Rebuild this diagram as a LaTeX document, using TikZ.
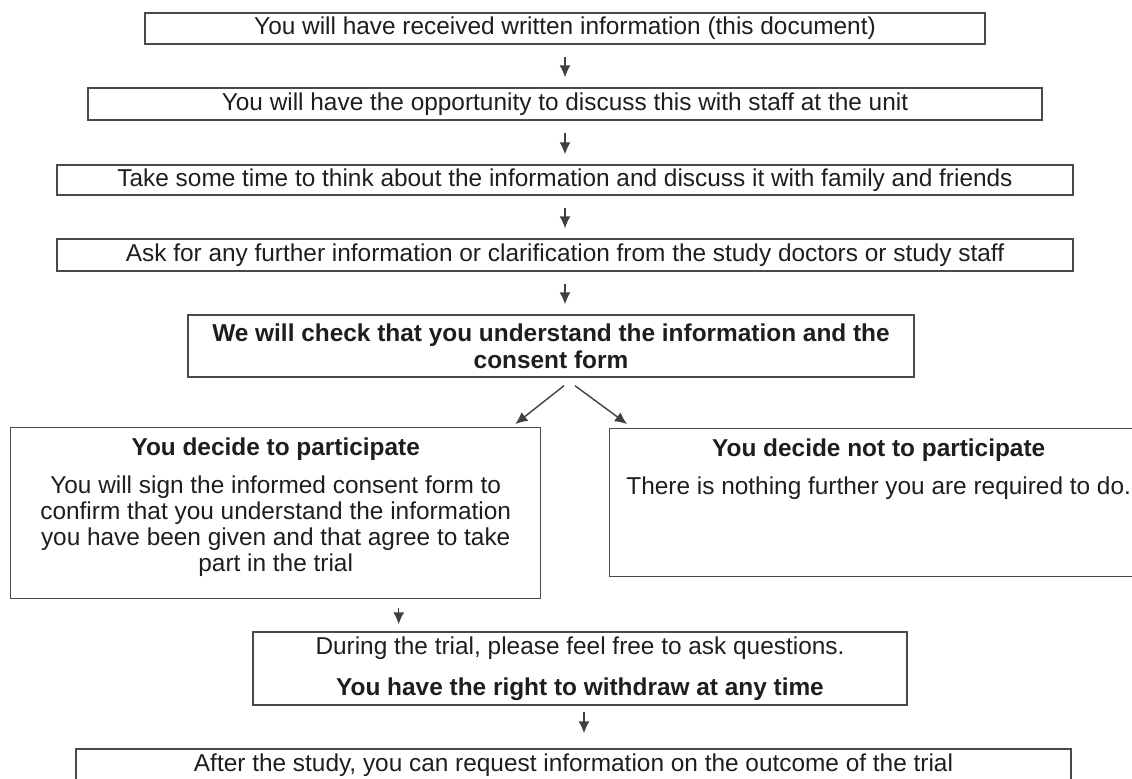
\documentclass[tikz,border=0pt]{standalone}
\usepackage{fontspec}
\setmainfont{Liberation Sans}
\usetikzlibrary{arrows.meta,positioning,calc}
\definecolor{ink}{HTML}{1E1E1E}
\definecolor{boxline}{HTML}{4A4A4A}
\newcommand{\txt}{\fontsize{12.2}{13}\selectfont}

\begin{document}
\begin{tikzpicture}[x=0.5pt,y=-0.5pt,
  every node/.style={font=\txt, text=ink},
  box/.style={draw=boxline, line width=0.7pt, inner sep=0pt},
  arr/.style={draw=ink!85, line width=0.7pt, -{Latex[length=6pt,width=5.5pt]}}]
  \useasboundingbox (0,0) rectangle (1132,778);
  % steps before the decision
  \foreach \n/\y/\w/\h/\t in {
      S1/28.5/420pt/15.5pt/{You will have received written information (this document)},
      S2/104/477pt/16pt/{You will have the opportunity to discuss this with staff at the unit},
      S3/180/508pt/15pt/{Take some time to think about the information and discuss it with family and friends},
      S4/255/508pt/16pt/{Ask for any further information or clarification from the study doctors or study staff}} {
    \node[box, minimum width=\w, minimum height=\h] (\n) at (565,\y) {\t};
  }
  \foreach \i in {1,2,3} {
    \pgfmathtruncatemacro{\j}{\i+1}
    \draw[arr, shorten <=6pt, shorten >=5pt] (S\i) -- (S\j);
  }
  \node[box, minimum width=363pt, minimum height=31pt, align=center, font=\txt\bfseries]
    (check) at (551,346) {We will check that you understand the information and the\\[0.5pt]consent form};
  \draw[arr, shorten <=6pt, shorten >=5pt] (S4.south) -- (S4.south |- check.north);

  % the two choices
  \node[box, minimum width=265pt, minimum height=85.5pt, anchor=north west] (yes) at (10,427) {};
  \node[anchor=north, align=center, inner sep=0pt] (yesT) at ([yshift=-5pt]yes.north)
    {\textbf{You decide to participate}\\[6pt]
     You will sign the informed consent form to\\
     confirm that you understand the information\\
     you have been given and that agree to take\\
     part in the trial};
  \node[box, minimum width=269pt, minimum height=74pt, anchor=north west] (no) at (609,428) {};
  \node[anchor=north, align=center, inner sep=0pt] (noT) at ([yshift=-5pt]no.north)
    {\textbf{You decide not to participate}\\[6pt]
     There is nothing further you are required to do.};
  \draw[arr] ([xshift=6.5pt,yshift=-4pt]check.south) -- ([xshift=-13pt,yshift=1.5pt]yes.north east);
  \draw[arr] ([xshift=12pt,yshift=-4pt]check.south) -- ([xshift=9pt,yshift=2pt]no.north west);

  % during and after the trial
  \node[box, minimum width=327pt, minimum height=36.5pt, align=center] (trial) at (580,668.5)
    {During the trial, please feel free to ask questions.\\[7.5pt]
     \textbf{You have the right to withdraw at any time}};
  \coordinate (yesOut) at ([xshift=61.5pt]yes.south);
  \draw[arr, shorten <=4.5pt, shorten >=3.5pt] (yesOut) -- (yesOut |- trial.north);
  \node[box, minimum width=497.5pt, minimum height=16.5pt] (after) at (573.5,765.5)
    {After the study, you can request information on the outcome of the trial};
  \coordinate (trialOut) at ([xshift=2pt]trial.south);
  \draw[arr, shorten <=3pt, shorten >=7.5pt] (trialOut) -- (trialOut |- after.north);
\end{tikzpicture}
\end{document}
